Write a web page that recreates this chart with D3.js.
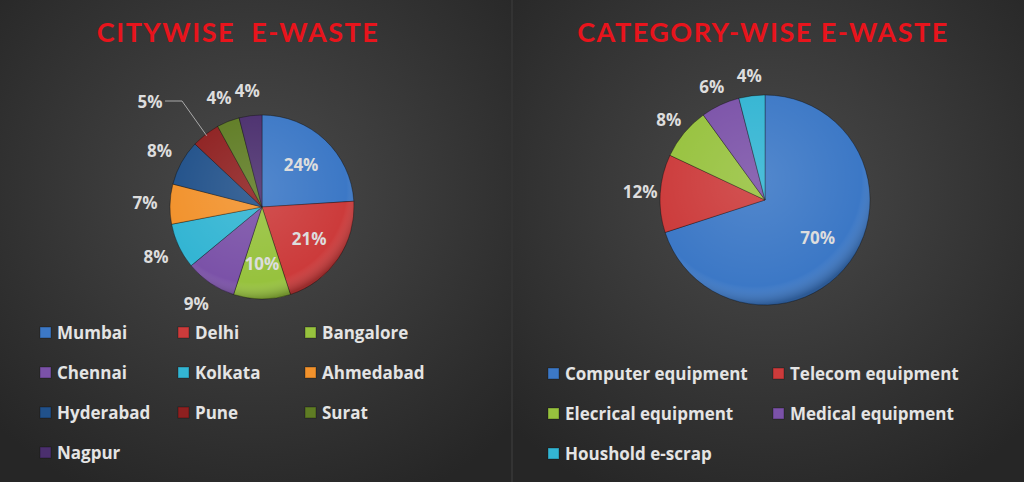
<!DOCTYPE html>
<html><head><meta charset="utf-8">
<script src="https://cdn.jsdelivr.net/npm/d3@7"></script>
<style>body{margin:0;background:#333;}svg{display:block;font-family:"Open Sans",Lato,sans-serif;font-weight:bold;}</style>
</head><body>
<script>
// data
var cities = ["Mumbai","Delhi","Bangalore","Chennai","Kolkata","Ahmedabad","Hyderabad","Pune","Surat","Nagpur"];
var cityShare = [24,21,10,9,8,7,8,5,4,4];
var cityColors = ["#3c78c6","#cc3b3b","#97c23e","#7b52a8","#33b5d3","#f2922c","#21518a","#8e2020","#5f7c24","#4b2f6e"];

var categories = ["Computer equipment","Telecom equipment","Elecrical equipment","Medical equipment","Houshold e-scrap"];
var catShare = [70,12,8,6,4];
var catColors = ["#3c78c6","#cc3b3b","#97c23e","#7b52a8","#33b5d3"];

var W = 1024, H = 482;
var svg = d3.select("body").append("svg").attr("width", W).attr("height", H);

var defs = svg.append("defs");
var bg = defs.append("radialGradient").attr("id","bg").attr("cx","50%").attr("cy","40%").attr("r","70%");
bg.append("stop").attr("offset","0%").attr("stop-color","#4a4a4a");
bg.append("stop").attr("offset","100%").attr("stop-color","#262626");
var sh = defs.append("radialGradient").attr("id","shine").attr("cx","45%").attr("cy","40%").attr("r","60%");
sh.append("stop").attr("offset","0%").attr("stop-color","#fff").attr("stop-opacity",0.12);
sh.append("stop").attr("offset","85%").attr("stop-color","#fff").attr("stop-opacity",0);
sh.append("stop").attr("offset","100%").attr("stop-color","#000").attr("stop-opacity",0.25);

svg.append("rect").attr("width",511).attr("height",H).attr("fill","url(#bg)");
svg.append("rect").attr("x",513).attr("width",511).attr("height",H).attr("fill","url(#bg)");

function drawPie(cx, cy, r, values, colors, insideMin, pctOut) {
  var g = svg.append("g").attr("transform","translate("+cx+","+cy+")");
  var arcs = d3.pie().sort(null)(values);
  var arc = d3.arc().innerRadius(0).outerRadius(r);
  g.selectAll("path").data(arcs).enter().append("path")
    .attr("d", arc).attr("fill",(d,i)=>colors[i])
    .attr("stroke","rgba(0,0,0,0.35)").attr("stroke-width",1);
  g.append("circle").attr("r",r).attr("fill","url(#shine)");
  var inA = d3.arc().innerRadius(r*0.62).outerRadius(r*0.62);
  var outA = d3.arc().innerRadius(r+pctOut).outerRadius(r+pctOut);
  g.selectAll("text").data(arcs).enter().append("text")
    .attr("transform", d => "translate("+(d.data >= insideMin ? inA : outA).centroid(d)+")")
    .attr("text-anchor","middle").attr("dy","0.35em")
    .attr("font-size",17).attr("fill","#ddd")
    .text(d => d.data + "%");
  return {g:g, arcs:arcs};
}

var left = drawPie(262, 207, 92, cityShare, cityColors, 10, 25);
// Pune label sits further out with a leader line
var puneArc = left.arcs[7];
var mid = (puneArc.startAngle + puneArc.endAngle)/2;
left.g.selectAll("text").filter((d,i)=>i===7)
  .attr("transform","translate(-112,-105)");
left.g.append("polyline")
  .attr("points",[[Math.sin(mid)*92*0.98, -Math.cos(mid)*92*0.98],[-80,-106],[-97,-106]].map(p=>p.join(",")).join(" "))
  .attr("fill","none").attr("stroke","#aaa").attr("stroke-width",1);

drawPie(765, 200, 105, catShare, catColors, 50, 20);

// titles
svg.append("text").attr("x",238).attr("y",42).attr("text-anchor","middle")
  .attr("font-size",27).attr("fill","#e8141c").attr("letter-spacing",1.5).attr("xml:space","preserve")
  .attr("font-family","Lato").text("CITYWISE  E-WASTE");
svg.append("text").attr("x",763).attr("y",42).attr("text-anchor","middle")
  .attr("font-size",27).attr("fill","#e8141c").attr("letter-spacing",1.5)
  .attr("font-family","Lato").text("CATEGORY-WISE E-WASTE");

function legend(items, colors, xs, y0, dy, cols) {
  items.forEach(function(name, i){
    var x = xs[i % cols], y = y0 + Math.floor(i/cols)*dy;
    svg.append("rect").attr("x",x).attr("y",y-6).attr("width",11).attr("height",11)
      .attr("fill",colors[i]).attr("stroke","rgba(0,0,0,0.3)");
    svg.append("text").attr("x",x+17).attr("y",y).attr("dy","0.35em")
      .attr("font-size",17).attr("fill","#e4e4e4").text(name);
  });
}
legend(cities, cityColors, [40,178,305], 333, 40, 3);
legend(categories, catColors, [548,773], 374, 40, 2);
</script>
</body></html>
